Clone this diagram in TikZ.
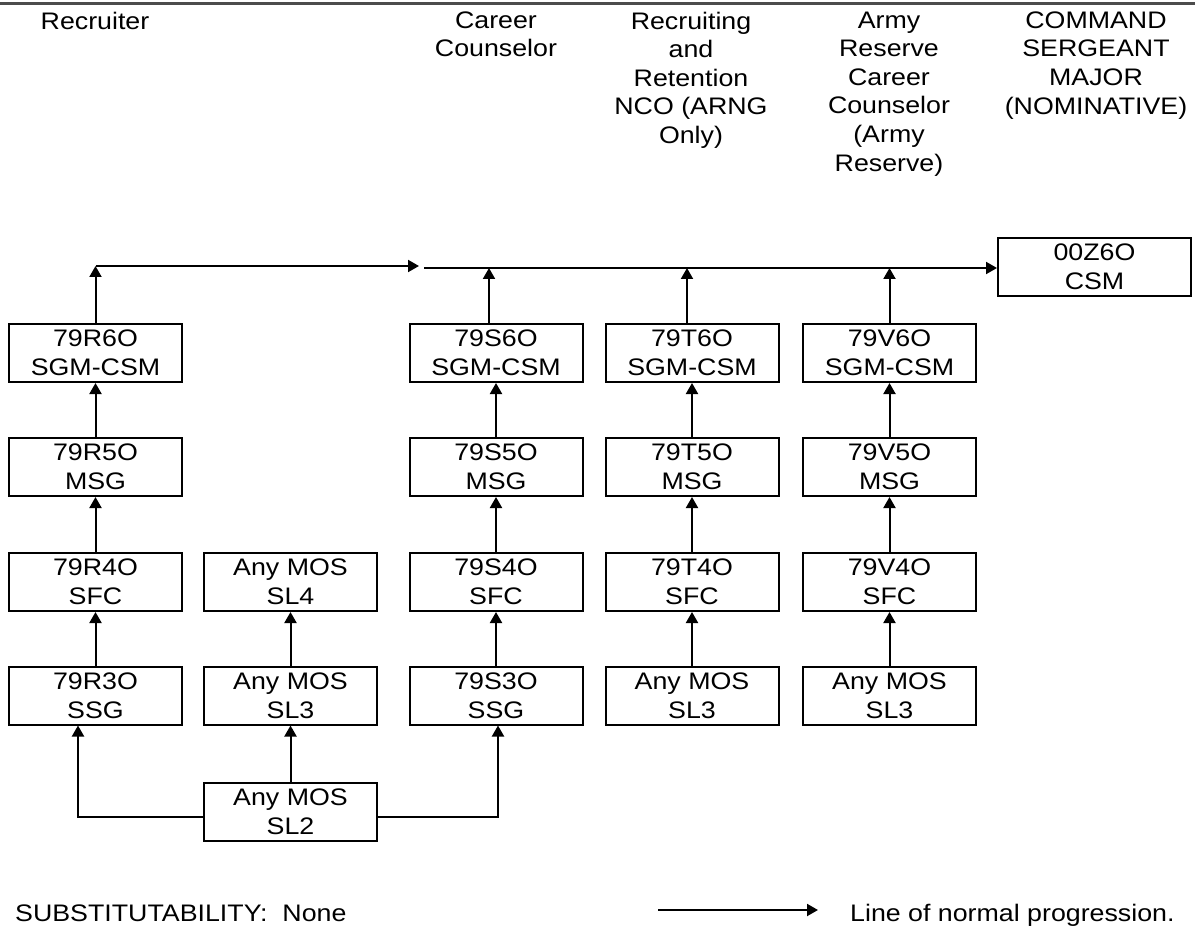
\documentclass[tikz,border=0pt]{standalone}
\usepackage{fontspec}
\setmainfont[FakeStretch=1.12]{Liberation Sans}
\usetikzlibrary{arrows.meta}
\begin{document}
\begin{tikzpicture}[x=1pt,y=-1pt,
  every node/.style={font=\fontsize{23.9}{28.6}\selectfont, inner sep=0pt},
  pbox/.style={draw, line width=2pt, minimum width=173pt, minimum height=58pt, align=center},
  hdr/.style={align=center, anchor=north},
  arr/.style={line width=2pt, -{Triangle[length=11pt,width=12pt]}},
  topline/.style={line width=3pt, draw=black!70}]
\useasboundingbox (0,0) rectangle (1195,928);
\coordinate (tl1) at (0,4);
\coordinate (tl2) at (1195,4);
\draw[topline] (tl1) -- (tl2);

% headers
\node[hdr] (hR) at (95,11.5) {Recruiter};
\node[hdr] (hS) at (496,11.5) {Career\\Counselor};
\node[hdr] (hT) at (691,11.5) {Recruiting\\and\\Retention\\NCO (ARNG\\Only)};
\node[hdr] (hV) at (889,11.5) {Army\\Reserve\\Career\\Counselor\\(Army\\Reserve)};
\node[hdr] (hC) at (1096,11.5) {COMMAND\\SERGEANT\\MAJOR\\(NOMINATIVE)};

% boxes
\node[pbox] (R6) at (95.5,353) {79R6O\\SGM-CSM};
\node[pbox] (R5) at (95.5,467) {79R5O\\MSG};
\node[pbox] (R4) at (95.5,582) {79R4O\\SFC};
\node[pbox] (R3) at (95.5,695.5) {79R3O\\SSG};

\node[pbox] (A4) at (290.5,582) {Any MOS\\SL4};
\node[pbox] (A3) at (290.5,695.5) {Any MOS\\SL3};
\node[pbox] (A2) at (290.5,812) {Any MOS\\SL2};

\node[pbox] (S6) at (496,353) {79S6O\\SGM-CSM};
\node[pbox] (S5) at (496,467) {79S5O\\MSG};
\node[pbox] (S4) at (496,582) {79S4O\\SFC};
\node[pbox] (S3) at (496,695.5) {79S3O\\SSG};

\node[pbox] (T6) at (692,353) {79T6O\\SGM-CSM};
\node[pbox] (T5) at (692,467) {79T5O\\MSG};
\node[pbox] (T4) at (692,582) {79T4O\\SFC};
\node[pbox] (T3) at (692,695.5) {Any MOS\\SL3};

\node[pbox] (V6) at (889.5,353) {79V6O\\SGM-CSM};
\node[pbox] (V5) at (889.5,467) {79V5O\\MSG};
\node[pbox] (V4) at (889.5,582) {79V4O\\SFC};
\node[pbox] (V3) at (889.5,695.5) {Any MOS\\SL3};

\node[pbox, minimum width=193pt] (CSM) at (1094.5,267) {00Z6O\\CSM};

% vertical progressions
\foreach \c in {R,S,T,V}{
  \draw[arr] (\c3.north) -- (\c4.south);
  \draw[arr] (\c4.north) -- (\c5.south);
  \draw[arr] (\c5.north) -- (\c6.south);
}
\draw[arr] (A3.north) -- (A4.south);
\draw[arr] (A2.north) -- (A3.south);

% top line
\coordinate (jL) at (95.5,266);
\coordinate (jM) at (419,266);
\coordinate (jR) at (424,268);
\draw[arr] (R6.north) -- (jL);
\draw[arr] (jL) -- (jM);
\draw[arr] (jR) -- (jR -| CSM.west);
\draw[arr] ([xshift=-7pt]S6.north) -- ([xshift=-7pt]S6.north |- jR);
\draw[arr] ([xshift=-5pt]T6.north) -- ([xshift=-5pt]T6.north |- jR);
\draw[arr] (V6.north) -- (V6.north |- jR);

% SL2 branches
\draw[arr] ([yshift=-5pt]A2.west) -| ([xshift=-17.5pt]R3.south);
\draw[arr] ([yshift=-5pt]A2.east) -| ([xshift=2pt]S3.south);

% legend
\node[anchor=base west] (sub) at (15,921) {SUBSTITUTABILITY:\ \ None};
\coordinate (lg1) at (658,910);
\coordinate (lg2) at (818,910);
\draw[arr] (lg1) -- (lg2);
\node[anchor=base west] (lnp) at (850,921) {Line of normal progression.};
\end{tikzpicture}
\end{document}
